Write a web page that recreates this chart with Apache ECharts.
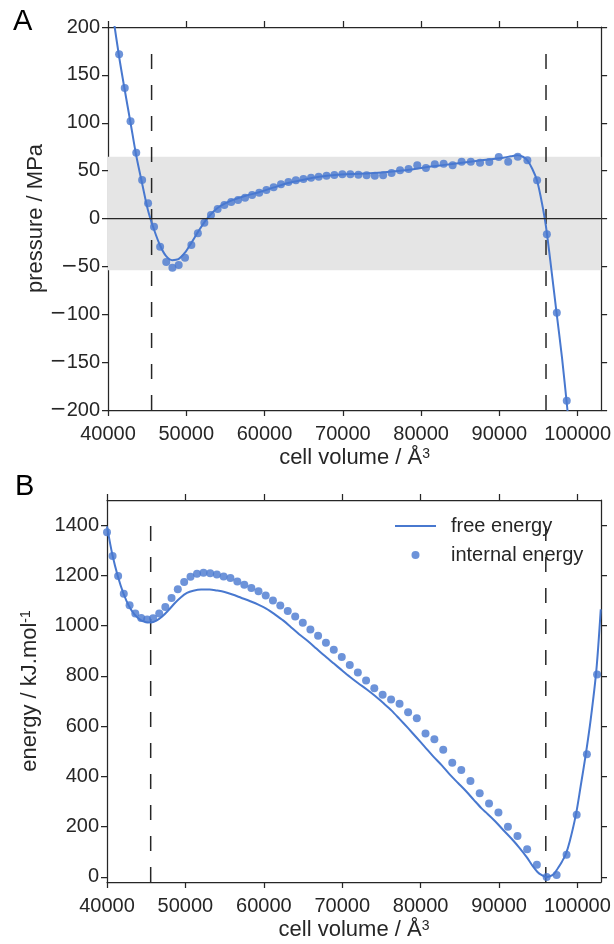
<!DOCTYPE html>
<html><head><meta charset="utf-8">
<script src="https://cdn.jsdelivr.net/npm/echarts@6/dist/echarts.min.js"></script>
<style>html,body{margin:0;padding:0;background:#fff}#c{width:614px;height:944px}</style>
</head><body><div id="c"></div>
<script>
// ---------- data ----------
const xTicks = [40000, 50000, 60000, 70000, 80000, 90000, 100000];
const pTicks = [-200, -150, -100, -50, 0, 50, 100, 150, 200];
const eTicks = [0, 200, 400, 600, 800, 1000, 1200, 1400];

// Panel A: pressure points
const pVol = [41420, 42140, 42880, 43610, 44360, 45120, 45880, 46660, 47440, 48230, 49030, 49840, 50650, 51480, 52310, 53160, 54010, 54870, 55740, 56620, 57510, 58410, 59320, 60240, 61160, 62100, 63050, 64000, 64970, 65940, 66920, 67920, 68920, 69940, 70960, 71990, 73040, 74090, 75150, 76230, 77310, 78400, 79510, 80620, 81750, 82880, 84030, 85180, 86350, 87530, 88720, 89920, 91130, 92350, 93580, 94820, 96070, 97340, 98610];
const pVal = [171.5, 136.3, 101.5, 68.7, 40.2, 15.9, -8.5, -29.4, -45.4, -51.4, -48.6, -40.9, -27.7, -15.5, -4.4, 3.7, 9.9, 14.1, 17.2, 19.3, 21.7, 24.5, 27.0, 29.8, 32.6, 35.7, 38.1, 39.9, 41.3, 42.6, 43.7, 44.7, 45.4, 46.1, 46.1, 45.7, 45.1, 44.7, 45.1, 47.5, 50.3, 51.7, 55.6, 52.7, 56.6, 57.2, 55.6, 59.3, 59.3, 58.3, 59.0, 64.2, 59.3, 64.5, 60.8, 39.9, -16.5, -98.4, -190.3];

// Panel A: fitted pressure curve
const pFitVol = [40600, 41400, 42100, 42900, 43600, 44400, 45100, 45900, 46700, 47400, 48200, 49000, 49800, 50600, 51500, 52300, 53200, 54000, 54900, 56000, 57500, 59300, 61200, 63000, 65000, 67000, 69000, 71000, 73000, 75000, 77000, 79000, 81000, 83000, 85000, 87000, 89000, 90500, 91500, 92300, 93000, 93600, 94200, 94800, 95300, 95800, 96100, 96700, 97300, 98000, 98700, 98900];
const pFitVal = [214, 170, 136, 99, 66, 35, 9, -12, -29, -39, -43.5, -42.5, -36, -26, -14, -4, 5, 11, 15.5, 19.5, 23.5, 27.5, 32.5, 37, 40.5, 43.5, 45.5, 46.5, 47, 48, 49.5, 51.5, 54, 56, 58, 60, 62, 63.5, 65, 66, 64.5, 60.5, 52, 40, 22, 0, -17, -57, -98, -145, -200, -215];

// Panel A: shaded pressure band
const bandLow = -54;
const bandHigh = 64.5;

// Panel B: internal energy points
const eVol = [40000, 40710, 41420, 42140, 42880, 43610, 44360, 45120, 45880, 46660, 47440, 48230, 49030, 49840, 50650, 51480, 52310, 53160, 54010, 54870, 55740, 56620, 57510, 58410, 59320, 60240, 61160, 62100, 63050, 64000, 64970, 65940, 66920, 67920, 68920, 69940, 70960, 71990, 73040, 74090, 75150, 76230, 77310, 78400, 79510, 80620, 81750, 82880, 84030, 85180, 86350, 87530, 88720, 89920, 91130, 92350, 93580, 94820, 96070, 97340, 98610, 99900, 101200, 102500];
const eVal = [1372, 1277, 1198, 1127, 1081, 1048, 1030, 1025, 1029, 1048, 1074, 1110, 1145, 1174, 1195, 1207, 1211, 1209, 1204, 1196, 1190, 1176, 1163, 1150, 1137, 1120, 1100, 1080, 1058, 1036, 1012, 985, 960, 932, 904, 875, 843, 814, 782, 751, 725, 706, 689, 655, 632, 571, 548, 506, 455, 426, 382, 333, 292, 257, 200, 163, 110, 49, 0, 8, 88, 248, 488, 806];

// Panel B: free energy curve
const fVol = [40000, 40700, 41400, 42100, 42800, 43500, 44300, 45000, 45600, 46300, 47000, 47800, 48600, 49400, 50200, 51000, 52000, 53100, 54000, 55000, 56000, 57100, 58200, 59300, 60300, 61400, 62500, 63500, 64500, 65600, 66700, 67800, 68900, 69900, 71000, 72000, 73100, 74200, 75200, 76300, 77300, 78400, 79500, 80500, 81600, 82700, 83700, 84800, 85800, 86800, 87800, 88400, 89500, 90500, 91600, 92600, 93500, 94300, 94900, 95400, 96000, 96500, 97000, 97500, 98000, 98500, 99000, 99800, 100400, 101060, 101700, 102400, 102970];
const fVal = [1395, 1280, 1195, 1128, 1078, 1045, 1022, 1014, 1013, 1020, 1035, 1060, 1088, 1112, 1130, 1139, 1144, 1144, 1140, 1134, 1124, 1111, 1098, 1084, 1068, 1045, 1020, 993, 966, 939, 909, 879, 850, 824, 796, 772, 747, 720, 693, 662, 629, 592, 554, 519, 480, 444, 408, 373, 341, 306, 272, 255, 222, 188, 152, 116, 80, 43, 20, 8, 0, 3, 12, 35, 60, 90, 140, 248, 360, 488, 630, 820, 1065];

// equilibrium volumes (dashed lines)
const equilVol = [45570, 95960];

// ---------- styling ----------
const BLUE = '#4878cf';
const INK = '#262626';
const FONT = 'Liberation Sans, Arial, sans-serif';
const X_MIN = 40000, X_MAX = 103000;
const P_MIN = -200, P_MAX = 200;
const E_MIN = -20, E_MAX = 1500;

const zip = (a, b) => a.map((v, i) => [v, b[i]]);
const spine = { show: true, onZero: false, lineStyle: { color: INK, width: 1.25 } };
const tickStyle = (vals) => ({ show: true, inside: false, length: 6, customValues: vals, lineStyle: { color: INK, width: 1.25 } });
const minusFmt = (v) => v < 0 ? '{m|\u2212}' + Math.abs(v) : String(v);
const labelStyle = (vals, margin) => ({
  show: true, customValues: vals, fontSize: 20, color: INK, fontFamily: FONT, margin: margin,
  formatter: minusFmt, rich: { m: { fontFamily: 'DejaVu Sans', fontSize: 20, color: INK } }
});
const nameStyle = { fontSize: 22, color: INK, fontFamily: FONT,
  rich: { sup: { fontSize: 14, color: INK, fontFamily: FONT, verticalAlign: 'top' } } };

const xBottom = (g) => ({
  type: 'value', gridIndex: g, position: 'bottom', min: X_MIN, max: X_MAX,
  axisLine: spine, axisTick: tickStyle(xTicks), axisLabel: labelStyle(xTicks, 14),
  splitLine: { show: false },
  name: 'cell volume / \u00c5{sup|3}', nameLocation: 'middle', nameGap: 37, nameMoveOverlap: false, nameTextStyle: nameStyle
});
const xTop = (g) => ({
  type: 'value', gridIndex: g, position: 'top', min: X_MIN, max: X_MAX,
  axisLine: spine, axisTick: tickStyle(xTicks), axisLabel: { show: false }, splitLine: { show: false }
});
const yLeft = (g, mn, mx, ticks, name, gap) => ({
  type: 'value', gridIndex: g, position: 'left', min: mn, max: mx,
  axisLine: spine, axisTick: tickStyle(ticks), axisLabel: labelStyle(ticks, 8),
  splitLine: { show: false },
  name: name, nameLocation: 'middle', nameGap: gap, nameMoveOverlap: false, nameTextStyle: nameStyle
});
const yRight = (g, mn, mx, ticks) => ({
  type: 'value', gridIndex: g, position: 'right', min: mn, max: mx,
  axisLine: spine, axisTick: tickStyle(ticks), axisLabel: { show: false }, splitLine: { show: false }
});

const dashSeries = (xi, yi, yMin, yMax) => equilVol.map(v => ({
  type: 'line', xAxisIndex: xi, yAxisIndex: yi, z: 2, silent: true,
  data: [[v, yMin], [v, yMin + 0.96 * (yMax - yMin)]],
  symbol: 'none', lineStyle: { color: INK, width: 1.5, type: [15, 16] }
}));

const option = {
  animation: false,
  backgroundColor: '#ffffff',
  textStyle: { fontFamily: FONT },
  title: [
    { text: 'A', left: 8, top: 2, textStyle: { fontSize: 29, fontWeight: 'normal', color: '#000', fontFamily: FONT } },
    { text: 'B', left: 10, top: 467, textStyle: { fontSize: 29, fontWeight: 'normal', color: '#000', fontFamily: FONT } }
  ],
  grid: [
    { left: 108, top: 27, width: 494, height: 383 },
    { left: 107, top: 500, width: 494, height: 382 }
  ],
  xAxis: [xBottom(0), xTop(0), xBottom(1), xTop(1)],
  yAxis: [
    yLeft(0, P_MIN, P_MAX, pTicks, 'pressure / MPa', 61),
    yRight(0, P_MIN, P_MAX, pTicks),
    yLeft(1, E_MIN, E_MAX, eTicks, 'energy / kJ.mol{sup|-1}', 66),
    yRight(1, E_MIN, E_MAX, eTicks)
  ],
  legend: {
    orient: 'vertical', left: 395, top: 516, padding: 0, itemWidth: 41, itemHeight: 8, itemGap: 9,
    textStyle: { fontSize: 20, color: INK, fontFamily: FONT, padding: [0, 0, 0, 10] },
    data: [
      { name: 'free energy', icon: 'path://M0,0h41v2h-41z' },
      { name: 'internal energy', icon: 'circle' }
    ]
  },
  series: [
    {
      type: 'scatter', xAxisIndex: 0, yAxisIndex: 0, z: 1, silent: true, data: [],
      markArea: { silent: true, itemStyle: { color: '#e5e5e5' }, data: [[{ yAxis: bandLow }, { yAxis: bandHigh }]] },
      markLine: { silent: true, symbol: 'none', label: { show: false }, lineStyle: { color: INK, width: 1.25, type: 'solid' }, data: [{ yAxis: 0 }] }
    },
    ...dashSeries(0, 0, P_MIN, P_MAX),
    {
      type: 'line', xAxisIndex: 0, yAxisIndex: 0, z: 3, name: 'pressure fit',
      data: zip(pFitVol, pFitVal), symbol: 'none', smooth: 0.3,
      lineStyle: { color: BLUE, width: 2 }
    },
    {
      type: 'scatter', xAxisIndex: 0, yAxisIndex: 0, z: 4, name: 'pressure',
      data: zip(pVol, pVal), symbol: 'circle', symbolSize: 8, itemStyle: { color: BLUE }
    },
    ...dashSeries(2, 2, E_MIN, E_MAX),
    {
      type: 'line', xAxisIndex: 2, yAxisIndex: 2, z: 3, name: 'free energy',
      data: zip(fVol, fVal), symbol: 'none', smooth: 0.3,
      lineStyle: { color: BLUE, width: 2 }, itemStyle: { color: BLUE }
    },
    {
      type: 'scatter', xAxisIndex: 2, yAxisIndex: 2, z: 4, name: 'internal energy',
      data: zip(eVol, eVal), symbol: 'circle', symbolSize: 8, itemStyle: { color: BLUE }
    }
  ]
};

const chart = echarts.init(document.getElementById('c'), null, { renderer: 'canvas' });
chart.setOption(option);
</script>
</body></html>
